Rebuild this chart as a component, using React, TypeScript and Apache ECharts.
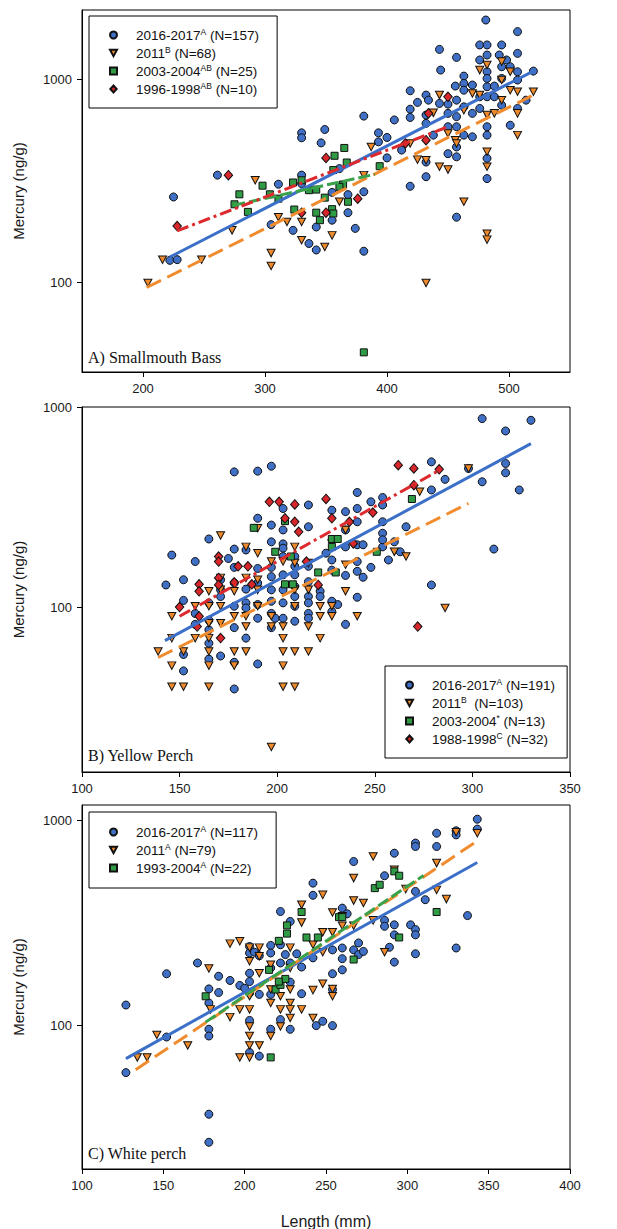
import React, { useEffect, useRef } from 'react';
import * as echarts from 'echarts';

const SANS = "'Liberation Sans', Arial, Helvetica, sans-serif";
const SERIF = "'Liberation Serif', 'Times New Roman', serif";

const BLUE = '#3f70c6';
const ORANGE = '#ee8a2c';
const GREEN = '#2f9b45';
const RED = '#d9262b';
const LBLUE = '#3b6fc8';
const LORANGE = '#f08c2e';
const LGREEN = '#3aa24a';
const LRED = '#dc2a2f';

// ---------- tick labels ----------
const xTicksA = [200, 300, 400, 500];
const yTicks = [100, 1000];

// ---------- A) Smallmouth Bass : [length mm, mercury ng/g] ----------
const bass2016 = [[225,263],[222,128],[228,129],[261,337],[311,304],[305,192],[323,180],[330,545],[330,515],[330,337],[330,306],[336,155],[342,144],[346,486],[349,566],[342,187],[355,202],[355,277],[361,363],[368,220],[368,270],[374,184],[381,279],[381,142],[381,659],[393,545],[393,492],[400,517],[400,410],[406,631],[412,448],[419,879],[419,713],[419,649],[419,297],[425,770],[432,837],[432,667],[432,607],[432,391],[432,331],[434,790],[443,1406],[444,1112],[438,531],[443,761],[450,755],[450,680],[450,430],[450,584],[457,1284],[456,927],[457,790],[457,655],[457,584],[457,464],[457,415],[457,209],[463,1038],[463,955],[463,885],[463,732],[463,531],[470,938],[470,680],[470,521],[476,1479],[476,1247],[476,821],[476,719],[481,1963],[482,1479],[482,1319],[482,1091],[482,1011],[482,920],[482,821],[482,584],[482,531],[482,408],[482,324],[488,927],[492,1319],[494,1479],[494,1155],[494,1011],[494,746],[498,1247],[501,1155],[501,594],[507,1721],[507,1344],[507,1091],[507,719],[514,790],[520,1099],[488,821],[507,993]];
const bass2011 = [[204,99],[216,129],[248,129],[273,180],[292,318],[305,139],[305,120],[311,209],[318,198],[330,198],[330,161],[349,149],[355,170],[361,249],[381,337],[387,464],[419,483],[425,402],[432,399],[432,99],[438,684],[443,837],[450,359],[450,541],[456,501],[457,483],[463,249],[470,853],[476,837],[482,1178],[482,667],[482,440],[482,371],[482,173],[482,162],[488,680],[494,993],[494,790],[501,1091],[501,885],[507,869],[507,680],[507,531],[520,869],[463,705],[476,1112],[494,1224],[443,371]];
const bass2003 = [[275,242],[279,271],[286,222],[298,299],[304,271],[323,310],[324,228],[330,318],[336,284],[342,220],[345,202],[349,261],[355,229],[357,420],[356,218],[364,303],[365,459],[367,389],[368,249],[381,45],[394,373],[361,295],[342,286],[311,258],[356,357]];
const bass1996 = [[228,189],[270,337],[330,220],[350,410],[350,220],[376,258],[415,483],[432,501],[434,680],[450,821]];
const bassFit2016 = [[222,133],[520,1099]];
const bassFit2011 = [[203,94],[520,837]];
const bassFit2003 = [[274,239],[390,340]];
const bassFit1996 = [[228,179],[450,584]];

// ---------- B) Yellow Perch ----------
const perch2016 = [[143,129],[146,182],[152,137],[152,108],[152,58],[152,48],[158,169],[158,93],[165,219],[165,66],[165,55],[165,86],[171,57],[171,122],[175,175],[178,474],[178,195],[178,158],[178,132],[178,101],[178,79],[178,53],[178,39],[184,193],[184,123],[184,105],[184,70],[190,478],[190,278],[190,156],[190,132],[190,103],[190,88],[190,52],[197,506],[197,257],[197,212],[197,158],[197,142],[197,122],[197,107],[197,93],[199,88],[203,311],[203,243],[203,207],[203,179],[203,145],[203,122],[203,105],[203,88],[209,145],[209,127],[209,113],[209,101],[209,85],[209,179],[216,324],[216,252],[216,160],[216,134],[216,113],[216,105],[216,93],[216,88],[222,120],[222,113],[225,186],[228,305],[228,172],[228,153],[228,107],[228,95],[231,103],[235,300],[235,243],[235,200],[235,144],[235,82],[241,374],[241,311],[241,267],[241,205],[241,169],[241,151],[241,112],[244,205],[244,141],[248,336],[248,158],[254,353],[254,324],[254,267],[254,234],[254,200],[254,217],[257,172],[260,212],[263,189],[266,252],[279,532],[279,385],[279,129],[286,435],[298,493],[305,875],[305,423],[311,195],[317,759],[317,522],[317,469],[324,385],[330,858],[171,113],[165,105],[165,77],[158,82],[171,137],[184,99],[197,79],[209,160],[203,197]];
const perch2011 = [[139,60],[146,90],[146,70],[146,51],[146,40],[152,60],[152,40],[158,70],[165,120],[165,101],[165,83],[165,70],[165,60],[165,51],[165,40],[171,228],[171,140],[171,101],[171,83],[178,120],[178,90],[178,60],[178,51],[184,200],[184,140],[184,80],[184,60],[190,248],[190,186],[190,137],[190,122],[197,20],[197,169],[197,90],[197,80],[203,70],[203,60],[203,51],[203,40],[203,80],[203,169],[209,200],[209,166],[209,122],[209,60],[209,40],[216,80],[216,60],[216,122],[222,70],[222,90],[222,101],[228,208],[228,90],[235,243],[235,163],[235,120],[241,90],[260,189],[266,179],[273,377],[286,99],[298,493],[228,101],[216,166],[209,101],[190,101],[171,122],[158,101],[184,90]];
const perch2003 = [[188,249],[199,189],[204,269],[207,179],[204,130],[208,130],[221,149],[228,219],[231,219],[230,149],[251,189],[269,347],[228,200]];
const perch1988 = [[150,100],[160,130],[160,120],[160,90],[159,80],[170,179],[170,169],[170,140],[170,129],[171,70],[178,133],[185,160],[187,130],[196,336],[201,336],[204,278],[209,326],[209,267],[211,238],[215,169],[221,129],[225,347],[228,278],[237,267],[239,208],[249,297],[262,512],[270,493],[270,407],[272,80],[283,488],[180,160]];
const perchFit2016 = [[142.5,68],[330,656]];
const perchFit2011 = [[139,56],[298,330]];
const perchFit1988 = [[150,90],[283,483]];

// ---------- C) White perch ----------
const wp2016 = [[127,126],[127,59],[152,179],[152,88],[171,202],[178,151],[178,129],[178,96],[178,89],[178,37],[178,27],[184,174],[184,145],[191,166],[197,157],[200,152],[203,243],[203,226],[203,180],[203,164],[203,144],[203,106],[203,74],[206,228],[209,219],[209,142],[209,71],[216,246],[216,226],[216,191],[216,142],[216,96],[222,360],[222,248],[222,202],[222,107],[225,222],[228,322],[228,202],[228,163],[228,96],[232,224],[235,193],[235,143],[242,495],[242,432],[242,214],[244,100],[248,105],[254,234],[254,179],[254,150],[254,100],[260,374],[260,239],[260,212],[260,187],[263,351],[267,631],[267,234],[270,253],[270,222],[273,230],[286,538],[286,326],[286,305],[289,241],[292,693],[292,310],[292,277],[292,204],[302,310],[305,776],[305,747],[305,294],[305,277],[305,224],[305,451],[311,411],[318,867],[318,747],[330,891],[330,851],[330,239],[337,344],[343,1015],[343,908]];
const wp2011 = [[134,70],[140,70],[146,90],[165,80],[178,190],[191,251],[191,110],[197,258],[197,120],[197,70],[203,240],[203,206],[203,139],[203,120],[203,99],[203,89],[203,80],[203,70],[209,240],[209,218],[209,180],[209,80],[216,198],[216,150],[216,129],[216,89],[222,139],[222,120],[222,99],[228,240],[228,191],[228,150],[228,129],[228,120],[228,109],[235,388],[235,318],[235,120],[242,248],[242,149],[242,109],[248,434],[248,285],[248,228],[248,160],[254,356],[254,285],[254,151],[254,139],[260,307],[260,341],[267,524],[267,407],[267,307],[273,396],[279,668],[279,326],[286,228],[292,575],[299,463],[318,620],[318,459],[324,414],[330,877],[343,867],[179,120]];
const wp1993 = [[176,139],[216,70],[219,150],[221,259],[222,158],[225,169],[226,308],[226,281],[235,358],[238,269],[245,269],[258,338],[260,338],[267,210],[280,468],[283,486],[292,565],[295,538],[295,269],[318,358],[215,187],[221,164]];
const wpFit2016 = [[127,69],[343,624]];
const wpFit2011 = [[133,61],[341,776]];
const wpFit1993 = [[176,104],[310,540]];

// ---------- legend labels: [years, superscript, rest] ----------
const legendA = [['2016-2017', 'A', ' (N=157)'], ['2011', 'B', ' (N=68)'], ['2003-2004', 'AB', ' (N=25)'], ['1996-1998', 'AB', ' (N=10)']];
const legendB = [['2016-2017', 'A', ' (N=191)'], ['2011', 'B', '  (N=103)'], ['2003-2004', '*', ' (N=13)'], ['1988-1998', 'C', ' (N=32)']];
const legendC = [['2016-2017', 'A', ' (N=117)'], ['2011', 'A', ' (N=79)'], ['1993-2004', 'A', ' (N=22)']];

const TRI = 'path://M0,0L10,0L5,9Z';
const SQR = 'path://M0,0L10,0L10,10L0,10Z';
const DIA = 'path://M5,0L10,5.5L5,11L0,5.5Z';
const markers = [
  { symbol: 'circle', size: 8, color: BLUE },
  { symbol: TRI, size: [8, 7.5], color: ORANGE },
  { symbol: SQR, size: 7, color: GREEN },
  { symbol: DIA, size: [8.5, 9.5], color: RED },
];

const plainName = (l: string[]) => l[0] + l[1] + l[2];
const richMap: Record<string, string> = {};
[...legendA, ...legendB, ...legendC].forEach((l) => {
  richMap[plainName(l)] = `${l[0]}{s|${l[1]}}${l[2]}`;
});

function scatter(grid: number, label: string[], data: number[][], m: number) {
  const mk = markers[m];
  return {
    type: 'scatter',
    name: plainName(label),
    xAxisIndex: grid,
    yAxisIndex: grid,
    data,
    symbol: mk.symbol,
    symbolSize: mk.size,
    itemStyle: { color: mk.color, borderColor: '#111', borderWidth: 1, opacity: 1 },
    emphasis: { disabled: true },
    silent: true,
    z: 2 + m * 0.01,
  };
}

function fit(grid: number, data: number[][], color: string, type: any) {
  return {
    type: 'line',
    xAxisIndex: grid,
    yAxisIndex: grid,
    data,
    symbol: 'none',
    showSymbol: false,
    lineStyle: { color, width: 3, type, cap: 'butt' },
    emphasis: { disabled: true },
    silent: true,
    z: 4,
  };
}

const axisLine = { show: true, onZero: false, lineStyle: { color: '#000', width: 1 } };
const tick = { show: true, inside: false, length: 5, lineStyle: { color: '#000', width: 1 } };
const lbl = { color: '#1a1a1a', fontSize: 13, fontFamily: SANS };

function xAxis(grid: number, min: number, max: number, extra: any = {}) {
  return {
    type: 'value',
    gridIndex: grid,
    min,
    max,
    axisLine,
    axisTick: { ...tick, ...(extra.tick || {}) },
    axisLabel: { ...lbl, margin: 10, ...(extra.label || {}) },
    splitLine: { show: false },
    ...(extra.axis || {}),
  };
}

function yAxis(grid: number, min: number, max: number) {
  return {
    type: 'log',
    logBase: 10,
    gridIndex: grid,
    min,
    max,
    name: 'Mercury (ng/g)',
    nameLocation: 'middle',
    nameGap: 56,
    nameMoveOverlap: false,
    nameTextStyle: { fontSize: 15, fontFamily: SANS, color: '#1a1a1a' },
    axisLine,
    axisTick: { ...tick, customValues: yTicks },
    minorTick: { show: false },
    axisLabel: {
      ...lbl,
      margin: 10,
      customValues: yTicks,
      formatter: (v: number) => String(Math.round(v)),
    },
    splitLine: { show: false },
  };
}

const legendBase = {
  orient: 'vertical',
  itemGap: 2,
  itemWidth: 7,
  itemHeight: 7,
  symbolKeepAspect: true,
  borderColor: '#000',
  borderWidth: 1,
  backgroundColor: '#fff',
  selectedMode: false,
  formatter: (n: string) => richMap[n] || n,
  textStyle: {
    fontSize: 13.5,
    fontFamily: SANS,
    color: '#111',
    lineHeight: 16,
    padding: [0, 0, 0, 14],
    rich: { s: { fontSize: 8.5, fontFamily: SANS, color: '#111', verticalAlign: 'top', lineHeight: 10 } },
  },
};

const gridBase = {
  show: true,
  borderColor: '#000',
  borderWidth: 1,
  backgroundColor: 'transparent',
  containLabel: false,
  outerBoundsMode: 'none',
};

export default function App() {
  const ref = useRef<HTMLDivElement>(null);
  useEffect(() => {
    if (!ref.current) return;
    const chart = echarts.init(ref.current, null, { renderer: 'svg', width: 617, height: 1229 });
    const option: any = {
      animation: false,
      backgroundColor: '#fff',
      grid: [
        { ...gridBase, left: 82, top: 10, width: 488, height: 362 },
        { ...gridBase, left: 82, top: 407, width: 488, height: 365 },
        { ...gridBase, left: 82, top: 805, width: 488, height: 364 },
      ],
      xAxis: [
        xAxis(0, 150, 550, { tick: { customValues: xTicksA }, label: { customValues: xTicksA } }),
        xAxis(1, 100, 350, { axis: { interval: 50 } }),
        xAxis(2, 100, 400, {
          axis: {
            interval: 50,
            name: 'Length (mm)',
            nameLocation: 'middle',
            nameGap: 44,
            nameMoveOverlap: false,
            nameTextStyle: { fontSize: 16, fontFamily: SANS, color: '#1a1a1a' },
          },
        }),
      ],
      yAxis: [yAxis(0, 36, 2200), yAxis(1, 15, 1000), yAxis(2, 20, 1190)],
      legend: [
        { ...legendBase, left: 89, top: 16, padding: [11, 18, 11, 20], data: legendA.map(plainName) },
        { ...legendBase, left: 385, top: 666, padding: [11, 12, 11, 20], data: legendB.map(plainName) },
        { ...legendBase, left: 89, top: 812, padding: [12, 18, 12, 20], data: legendC.map(plainName) },
      ],
      graphic: [
        { type: 'text', left: 88, top: 349, style: { text: 'A) Smallmouth Bass', fontSize: 16, fontFamily: SERIF, fill: '#111' } },
        { type: 'text', left: 88, top: 747, style: { text: 'B) Yellow Perch', fontSize: 16, fontFamily: SERIF, fill: '#111' } },
        { type: 'text', left: 88, top: 1145, style: { text: 'C) White perch', fontSize: 16, fontFamily: SERIF, fill: '#111' } },
      ],
      series: [
        scatter(0, legendA[0], bass2016, 0),
        scatter(0, legendA[1], bass2011, 1),
        scatter(0, legendA[2], bass2003, 2),
        scatter(0, legendA[3], bass1996, 3),
        fit(0, bassFit2016, LBLUE, 'solid'),
        fit(0, bassFit2011, LORANGE, [16, 7]),
        fit(0, bassFit2003, LGREEN, [12, 4]),
        fit(0, bassFit1996, LRED, [12, 4, 3, 4]),

        scatter(1, legendB[0], perch2016, 0),
        scatter(1, legendB[1], perch2011, 1),
        scatter(1, legendB[2], perch2003, 2),
        scatter(1, legendB[3], perch1988, 3),
        fit(1, perchFit2016, LBLUE, 'solid'),
        fit(1, perchFit2011, LORANGE, [16, 7]),
        fit(1, perchFit1988, LRED, [12, 4, 3, 4]),

        scatter(2, legendC[0], wp2016, 0),
        scatter(2, legendC[1], wp2011, 1),
        scatter(2, legendC[2], wp1993, 2),
        fit(2, wpFit2016, LBLUE, 'solid'),
        fit(2, wpFit2011, LORANGE, [16, 7]),
        fit(2, wpFit1993, LGREEN, [12, 4]),
      ],
    };
    chart.setOption(option);
    return () => chart.dispose();
  }, []);
  return (
    <div
      ref={ref}
      style={{ position: 'fixed', left: 0, top: 0, width: 617, height: 1229, background: '#fff' }}
    />
  );
}
